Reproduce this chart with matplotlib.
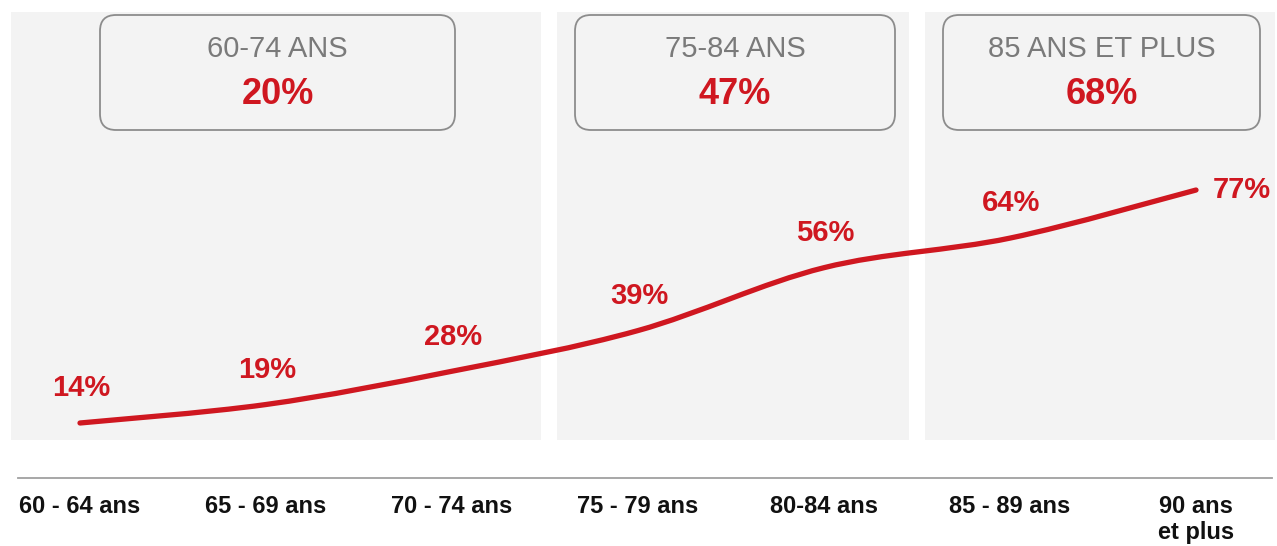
import matplotlib.pyplot as plt
from matplotlib.patches import Rectangle, FancyBboxPatch, PathPatch
from matplotlib.path import Path
import numpy as np

# data
categories = ['60 - 64 ans', '65 - 69 ans', '70 - 74 ans', '75 - 79 ans',
              '80-84 ans', '85 - 89 ans', '90 ans\net plus']
values = [14, 19, 28, 39, 56, 64, 77]
group_names = ['60-74 ANS', '75-84 ANS', '85 ANS ET PLUS']
group_values = [20, 47, 68]

RED = '#cf1720'
GREY_TXT = '#7a7a7a'
PANEL = '#f3f3f3'
FONT = ['Liberation Sans', 'DejaVu Sans']
NARROW = ['Liberation Sans Narrow', 'Liberation Sans', 'DejaVu Sans']

fig = plt.figure(figsize=(12.77, 5.46), dpi=100)
ax = fig.add_axes([0, 0, 1, 1])
px = 186.0          # pixels per category
py = 3.698          # pixels per percent
ax.set_xlim(-80 / px, (1277 - 80) / px)
ax.set_ylim(14 - 123 / py, 14 + 423 / py)
ax.axis('off')

def xp(p):  # pixel x -> data x
    return (p - 80) / px

def yp(p):  # pixel y (from top) -> data y
    return 14 + (423 - p) / py

# grey background panels
panels = [(11, 541), (557, 909), (925, 1275)]
for l, r in panels:
    ax.add_patch(Rectangle((xp(l), yp(440)), xp(r) - xp(l), yp(12) - yp(440),
                           facecolor=PANEL, edgecolor='none', zorder=0))

# group boxes
boxes = [(100, 455), (575, 895), (943, 1260)]
for (l, r), name, v in zip(boxes, group_names, group_values):
    b = FancyBboxPatch((l, 546 - 130), r - l, 115,
                       boxstyle='round,pad=0,rounding_size=16',
                       transform=None, facecolor='none',
                       edgecolor='#8c8c8c', linewidth=1.3, zorder=2)
    fig.patches.append(b)
    cx = (l + r) / 2 / 1277
    fig.text(cx, 1 - 49 / 546, name, ha='center', va='center', fontsize=21,
             color=GREY_TXT, family=FONT)
    fig.text(cx, 1 - 95 / 546, f'{v}%', ha='center', va='center', fontsize=26,
             color=RED, fontweight='bold', family=FONT)

# smooth red curve (Catmull-Rom -> cubic Bezier through data points)
x = np.arange(len(values), dtype=float)
y = np.array(values, dtype=float)
pts = np.column_stack([x, y])
verts = [pts[0]]
codes = [Path.MOVETO]
for i in range(len(pts) - 1):
    p0 = pts[i - 1] if i > 0 else pts[i]
    p1, p2 = pts[i], pts[i + 1]
    p3 = pts[i + 2] if i + 2 < len(pts) else pts[i + 1]
    c1 = p1 + (p2 - p0) / 6
    c2 = p2 - (p3 - p1) / 6
    verts += [c1, c2, p2]
    codes += [Path.CURVE4] * 3
ax.add_patch(PathPatch(Path(verts, codes), facecolor='none', edgecolor=RED,
                       linewidth=3.8, capstyle='round', zorder=3))

# value labels
for i, v in enumerate(values):
    if i == len(values) - 1:
        ax.annotate(f'{v}%', (i, v), xytext=(12, 0), textcoords='offset points',
                    ha='left', va='center', fontsize=21, fontweight='bold',
                    color=RED, family=FONT)
    else:
        ax.annotate(f'{v}%', (i, v), xytext=(1, 25), textcoords='offset points',
                    ha='center', va='center', fontsize=21, fontweight='bold',
                    color=RED, family=FONT)

# baseline and category labels
ax.plot([xp(18), xp(1272)], [yp(478), yp(478)], color='#a0a0a0', lw=1.3)
for i, c in enumerate(categories):
    ax.text(i, yp(495), c, ha='center', va='top', fontsize=17,
            fontweight='bold', color='#111111', family=NARROW, linespacing=1.15)

fig.savefig('out.png', dpi=100, facecolor='white')
